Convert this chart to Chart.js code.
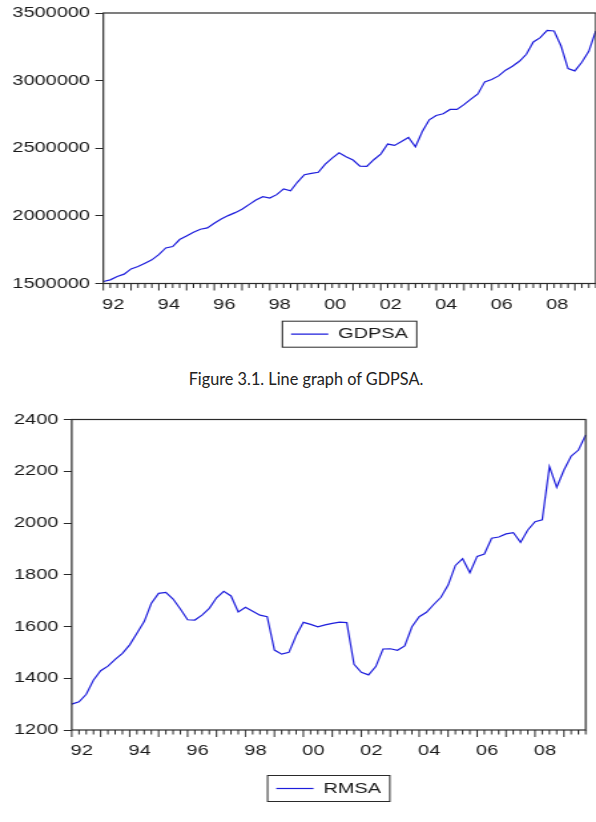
<!DOCTYPE html>
<html>
<head>
<meta charset="utf-8">
<script src="https://cdn.jsdelivr.net/npm/chart.js@4.4.1/dist/chart.umd.min.js"></script>
<style>
  html, body { margin: 0; padding: 0; background: #fff; width: 596px; height: 822px; overflow: hidden; }
  canvas { position: absolute; left: 0; }
  #gdpChart { top: 0; }
  #rmChart { top: 400px; }
  .caption { position: absolute; top: 369px; left: 0; width: 612px; text-align: center;
             font-family: Lato, 'Open Sans', sans-serif; font-size: 16.3px; color: #222; }
</style>
</head>
<body>
<canvas id="gdpChart" width="452" height="362"></canvas>
<div class="caption">Figure 3.1. Line graph of GDPSA.</div>
<canvas id="rmChart" width="444" height="422"></canvas>
<script>
// quarterly data, 1992Q1 - 2009Q4
var years = [1992, 1993, 1994, 1995, 1996, 1997, 1998, 1999, 2000,
             2001, 2002, 2003, 2004, 2005, 2006, 2007, 2008, 2009];
var quarters = [];
years.forEach(function (y) {
  ['Q1', 'Q2', 'Q3', 'Q4'].forEach(function (q) { quarters.push(y + q); });
});

var gdpsa = [1515000, 1527000, 1552000, 1569000, 1608000, 1625000, 1650000, 1675000,
             1714000, 1763000, 1773000, 1825000, 1852000, 1879000, 1901000, 1911000,
             1945000, 1977000, 2002000, 2024000, 2049000, 2083000, 2117000, 2142000,
             2132000, 2157000, 2199000, 2186000, 2250000, 2304000, 2314000, 2322000,
             2383000, 2427000, 2467000, 2437000, 2413000, 2368000, 2366000, 2415000,
             2457000, 2531000, 2521000, 2550000, 2580000, 2511000, 2624000, 2710000,
             2742000, 2755000, 2787000, 2787000, 2823000, 2863000, 2902000, 2991000,
             3008000, 3035000, 3077000, 3106000, 3143000, 3195000, 3286000, 3318000,
             3372000, 3367000, 3256000, 3089000, 3072000, 3136000, 3217000, 3367000];

var rmsa = [1300, 1309, 1338, 1393, 1429, 1447, 1473, 1496,
            1529, 1574, 1619, 1690, 1728, 1732, 1706, 1668,
            1626, 1625, 1644, 1670, 1711, 1736, 1718, 1656,
            1674, 1659, 1644, 1638, 1509, 1493, 1500, 1565,
            1616, 1608, 1599, 1606, 1612, 1617, 1615, 1454,
            1423, 1413, 1445, 1513, 1514, 1508, 1525, 1599,
            1638, 1655, 1685, 1713, 1760, 1836, 1862, 1808,
            1871, 1880, 1941, 1946, 1958, 1963, 1925, 1973,
            2005, 2012, 2218, 2138, 2205, 2259, 2282, 2340];

var gdpTicks = [1500000, 2000000, 2500000, 3000000, 3500000];
var rmTicks = [1200, 1400, 1600, 1800, 2000, 2200, 2400];

var STRETCH = 1.33;   // the picture is wider than it is tall, text included
var LINE_COLOR = 'rgb(30,30,220)';
var AXIS_COLOR = '#2a2a2a';
var TEXT_COLOR = '#1a1a1a';

Chart.defaults.font.family = "'Liberation Sans', Arial, sans-serif";
Chart.defaults.font.size = 15;
Chart.defaults.color = TEXT_COLOR;

// box around the plot area
var frame = {
  id: 'frame',
  afterDraw: function (chart) {
    var a = chart.chartArea, ctx = chart.ctx;
    ctx.save();
    ctx.strokeStyle = AXIS_COLOR;
    ctx.lineWidth = 1.2;
    ctx.strokeRect(a.left, a.top, a.right - a.left, a.bottom - a.top);
    ctx.restore();
  }
};

// short ticks each quarter, longer ones at each year
var quarterTicks = {
  id: 'quarterTicks',
  afterDraw: function (chart) {
    var x = chart.scales.x, ctx = chart.ctx, bottom = chart.chartArea.bottom;
    ctx.save();
    ctx.strokeStyle = AXIS_COLOR;
    ctx.lineWidth = 1;
    x.ticks.forEach(function (t, i) {
      var px = x.getPixelForTick(i);
      var len = i % 4 === 0 ? 7 : 4.5;
      ctx.beginPath();
      ctx.moveTo(px, bottom);
      ctx.lineTo(px, bottom + len);
      ctx.stroke();
    });
    ctx.restore();
  }
};

// border round the legend
var legendBox = {
  id: 'legendBox',
  afterDraw: function (chart) {
    var boxes = chart.legend.legendHitBoxes;
    if (!boxes || !boxes.length) return;
    var h = boxes[0], ctx = chart.ctx;
    ctx.save();
    ctx.strokeStyle = AXIS_COLOR;
    ctx.lineWidth = 1;
    ctx.strokeRect(h.left - 6.5, h.top - 5.5, h.width + 13, h.height + 11);
    ctx.restore();
  }
};

function makeChart(id, label, values, ticks, opts) {
  var canvas = document.getElementById(id);
  canvas.style.width = (canvas.width * STRETCH) + 'px';
  canvas.style.height = canvas.height + 'px';
  return new Chart(canvas, {
    type: 'line',
    data: {
      labels: quarters,
      datasets: [{
        label: label,
        data: values,
        borderColor: LINE_COLOR,
        backgroundColor: LINE_COLOR,
        borderWidth: 1.2,
        pointRadius: 0,
        tension: 0,
        fill: false
      }]
    },
    options: {
      responsive: false,
      devicePixelRatio: 1,
      animation: false,
      events: [],
      layout: { padding: opts.padding },
      scales: {
        x: {
          type: 'category',
          offset: false,
          afterFit: function (s) { s.height = 30; },
          grid: { display: false },
          border: { display: false },
          ticks: {
            autoSkip: false,
            maxRotation: 0,
            minRotation: 0,
            padding: 4,
            labelOffset: 7.5,
            callback: function (v, i) {
              var y = years[Math.floor(i / 4)];
              return (i % 4 === 0 && y % 2 === 0) ? String(y).slice(2) : '';
            }
          }
        },
        y: {
          min: ticks[0],
          max: ticks[ticks.length - 1],
          afterFit: function (s) { s.width = opts.axisWidth; },
          afterBuildTicks: function (s) {
            s.ticks = ticks.map(function (v) { return { value: v }; });
          },
          grid: { drawOnChartArea: false, drawTicks: true, tickLength: 6, color: AXIS_COLOR },
          border: { display: false },
          ticks: {
            padding: 4,
            callback: function (v) { return String(v); }
          }
        }
      },
      plugins: {
        legend: {
          position: 'bottom',
          fullSize: false,
          labels: {
            usePointStyle: true,
            pointStyle: 'line',
            pointStyleWidth: 28,
            padding: opts.legendPad,
            color: TEXT_COLOR,
            font: { size: 15 }
          }
        },
        tooltip: { enabled: false }
      }
    },
    plugins: [frame, quarterTicks, legendBox]
  });
}

makeChart('gdpChart', 'GDPSA', gdpsa, gdpTicks, {
  padding: { top: 12, right: 2.8, bottom: 10.3, left: 0 },
  axisWidth: 77.7,
  legendPad: 13.2
});

makeChart('rmChart', 'RMSA', rmsa, rmTicks, {
  padding: { top: 19.5, right: 3.6, bottom: 16, left: 0 },
  axisWidth: 53.9,
  legendPad: 21
});
</script>
</body>
</html>
